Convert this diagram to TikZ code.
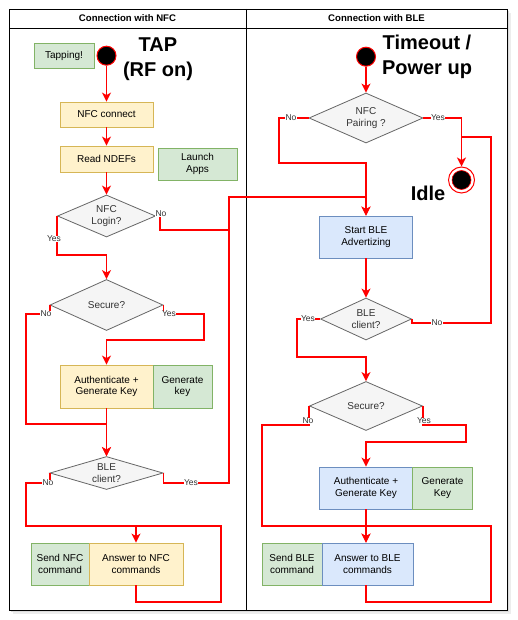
\documentclass[tikz,border=0pt]{standalone}
\usepackage{fontspec}
\setmainfont{Liberation Sans}
\usepackage{tikz}
\usetikzlibrary{arrows.meta}
\usetikzlibrary{shapes.geometric}
\usetikzlibrary{positioning}
\definecolor{flowred}{HTML}{FF0000}
\definecolor{yelfill}{HTML}{FFF2CC}
\definecolor{yelline}{HTML}{D6B656}
\definecolor{grnfill}{HTML}{D5E8D4}
\definecolor{grnline}{HTML}{82B366}
\definecolor{blufill}{HTML}{DAE8FC}
\definecolor{bluline}{HTML}{6C8EBF}
\definecolor{decfill}{HTML}{F5F5F5}
\definecolor{decline}{HTML}{666666}
\definecolor{dectext}{HTML}{333333}
\tikzset{wire/.style = {draw=flowred, line width=1.8pt}}
\tikzset{flow/.style = {wire, -{Stealth[length=9pt, width=9pt, inset=2.5pt]}}}
\tikzset{
box/.style = {rectangle, draw, line width=0.8pt, inner sep=1pt, align=center,
              font={\fontsize{10}{11.7}\selectfont}},
nfcbox/.style = {box, draw=yelline, fill=yelfill},
blebox/.style = {box, draw=bluline, fill=blufill},
notebox/.style = {box, draw=grnline, fill=grnfill},
decision/.style = {diamond, draw=decline, fill=decfill, line width=0.8pt, inner sep=0pt,
                   align=center, text=dectext, font={\fontsize{10}{11.7}\selectfont}},
startdot/.style = {circle, draw=flowred, fill=black, line width=1pt, minimum size=19pt, inner sep=0pt},
idledot/.style = {circle, draw=flowred, fill=white, line width=1pt, minimum size=26pt, inner sep=0pt,
                  path picture={\filldraw [fill=black, draw=flowred, line width=0.6pt]
                                (path picture bounding box.center) circle (9.5pt);}},
bigtext/.style = {align=center, font={\fontsize{20}{24.5}\selectfont\bfseries}},
lane/.style = {font={\fontsize{9.6}{11}\selectfont\bfseries}},
lbl/.style = {fill=white, inner sep=0.5pt, text=dectext, font={\fontsize{8.5}{10}\selectfont}},
}

\begin{document}
\begin{tikzpicture}[x=1pt, y=-1pt]
		\useasboundingbox (0,0) rectangle (517,620);
		% frame and lanes
		\fill [black!7] (13,13) rectangle (511,614);
		\fill [black!14] (11,11) rectangle (509,612);
		\draw [fill=white, line width=0.8pt] (9,9) rectangle (507,610);
		\draw [line width=0.8pt] (9,28) to (507,28);
		\draw [line width=0.8pt] (246,9) to (246,610);
		\node [lane] (nfclane) at (127.5,18.5) {Connection with NFC};
		\node [lane] (blelane) at (376.5,18.5) {Connection with BLE};

		% NFC side
		\node [notebox, minimum width=60pt, minimum height=25pt] (tapping) at (64,55.5) {Tapping!};
		\node [startdot] (startL) at (106.5,55.7) {};
		\node [bigtext] (tap) at (158,59) {TAP\\(RF on)};
		\node [nfcbox, minimum width=93pt, minimum height=25pt] (connect) at (106.5,114.5) {NFC connect};
		\node [nfcbox, minimum width=93pt, minimum height=26pt] (ndef) at (106.5,159) {Read NDEFs};
		\node [notebox, minimum width=79pt, minimum height=32pt] (launch) at (197.5,164) {Launch\\Apps};
		\node [decision, aspect=2.33, minimum width=98pt, minimum height=42pt] (login) at (106.5,216) {NFC\\Login?};
		\node [decision, aspect=2.2, minimum width=113pt, minimum height=51pt] (secureL) at (106.5,305) {Secure?};
		\node [nfcbox, minimum width=93pt, minimum height=43pt] (authL) at (106.5,386.5) {Authenticate +\\Generate Key};
		\node [notebox, minimum width=59pt, minimum height=43pt] (genL) at (182.5,386.5) {Generate\\key};
		\node [decision, aspect=3.4, minimum width=113pt, minimum height=33pt] (clientL) at (106.5,473) {BLE\\client?};
		\node [notebox, minimum width=58pt, minimum height=42pt] (sendN) at (60,564) {Send NFC\\command};
		\node [nfcbox, minimum width=94pt, minimum height=42pt] (answerN) at (136,564) {Answer to NFC\\commands};

		% BLE side
		\node [startdot] (startR) at (366,56.7) {};
		\node [bigtext] (timeout) at (427,57) {Timeout /\\Power up};
		\node [decision, aspect=2.28, minimum width=114pt, minimum height=50pt] (pairing) at (366,118) {NFC\\Pairing ?};
		\node [idledot] (idle) at (461.5,180) {};
		\node [bigtext] (idletext) at (428,193) {Idle};
		\node [blebox, minimum width=93pt, minimum height=42pt] (advert) at (366,237) {Start BLE\\Advertizing};
		\node [decision, aspect=2.17, minimum width=91pt, minimum height=42pt] (clientR) at (366,319) {BLE\\client?};
		\node [decision, aspect=2.3, minimum width=113pt, minimum height=49pt] (secureR) at (366,406) {Secure?};
		\node [blebox, minimum width=93pt, minimum height=42pt] (authR) at (366,488) {Authenticate +\\Generate Key};
		\node [notebox, minimum width=60pt, minimum height=42pt] (genR) at (442.5,488) {Generate\\Key};
		\node [notebox, minimum width=60pt, minimum height=42pt] (sendB) at (292,564) {Send BLE\\command};
		\node [blebox, minimum width=91pt, minimum height=42pt] (answerB) at (367.5,564) {Answer to BLE\\commands};

		% bends
		\coordinate (b1) at (106.5,255);
		\coordinate (b2) at (160,216);
		\coordinate (b3) at (160,230);
		\coordinate (b4) at (229,230);
		\coordinate (b5) at (229,197);
		\coordinate (b7) at (26,314);
		\coordinate (b8) at (26,424);
		\coordinate (b9) at (204,314);
		\coordinate (b10) at (204,340);
		\coordinate (b11) at (26,483);
		\coordinate (b12) at (26,526);
		\coordinate (b13) at (229,483);
		\coordinate (b14) at (221,602);
		\coordinate (b15) at (221,526);
		\coordinate (b16) at (279,163);
		\coordinate (b17) at (491,323);
		\coordinate (b18) at (491,137);
		\coordinate (b19) at (297,357);
		\coordinate (b20) at (262,425);
		\coordinate (b21) at (262,526);
		\coordinate (b22) at (466,425);
		\coordinate (b23) at (466,442);
		\coordinate (b24) at (491,602);
		\coordinate (b25) at (491,526);

		% NFC side flow
		\draw [flow] (startL) to (connect);
		\draw [flow] (connect) to (ndef);
		\draw [flow] (ndef) to (login);
		\draw [flow] (login.west) to (login.west |- b1) to (b1) to (secureL.north);
		\draw [flow] (login.east) to (b2) to (b3) to (b4) to (b5) to (advert.north |- b5) to (advert.north);
		\draw [flow] (secureL.west) to (secureL.west |- b7) to (b7) to (b8) to (clientL.north |- b8) to (clientL.north);
		\draw [flow] (secureL.east) to (secureL.east |- b9) to (b9) to (b10) to (authL.north |- b10) to (authL.north);
		\draw [flow] (authL) to (clientL);
		\draw [flow] (clientL.west) to (clientL.west |- b11) to (b11) to (b12) to (answerN.north |- b12) to (answerN.north);
		\draw [wire] (clientL.east) to (clientL.east |- b13) to (b13) to (b4);
		\draw [wire] (answerN.south) to (answerN.south |- b14) to (b14) to (b15) to (answerN.north |- b15);

		% BLE side flow
		\draw [flow] (startR) to (pairing);
		\draw [flow] (pairing.west) to (pairing.west -| b16) to (b16) to (advert.north |- b16) to (advert.north);
		\draw [flow] (pairing.east) to (pairing.east -| idle) to (idle.north);
		\draw [wire] (clientR.east) to (clientR.east |- b17) to (b17) to (b18) to (idle |- b18);
		\draw [flow] (advert) to (clientR);
		\draw [flow] (clientR.west) to (clientR.west -| b19) to (b19) to (secureR.north |- b19) to (secureR.north);
		\draw [flow] (secureR.west) to (secureR.west |- b20) to (b20) to (b21) to (authR.south |- b21) to (authR.south |- answerB.north);
		\draw [flow] (secureR.east) to (secureR.east |- b22) to (b22) to (b23) to (authR.north |- b23) to (authR.north);
		\draw [flow] (authR) to (authR.south |- answerB.north);
		\draw [wire] (authR.south |- answerB.south) to (authR.south |- b24) to (b24) to (b25) to (authR.south |- b25);

		% labels
		\node [lbl] (yesLogin) at (54,239) {Yes};
		\node [lbl] (noLogin) at (161,214) {No};
		\node [lbl] (noSecL) at (46,314) {No};
		\node [lbl] (yesSecL) at (169,314) {Yes};
		\node [lbl] (noCliL) at (48,483) {No};
		\node [lbl] (yesCliL) at (191,483) {Yes};
		\node [lbl] (noPair) at (291,118) {No};
		\node [lbl] (yesPair) at (438,118) {Yes};
		\node [lbl] (noCliR) at (437,323) {No};
		\node [lbl] (yesCliR) at (308,319) {Yes};
		\node [lbl] (noSecR) at (308,421) {No};
		\node [lbl] (yesSecR) at (424,421) {Yes};
\end{tikzpicture}
\end{document}
